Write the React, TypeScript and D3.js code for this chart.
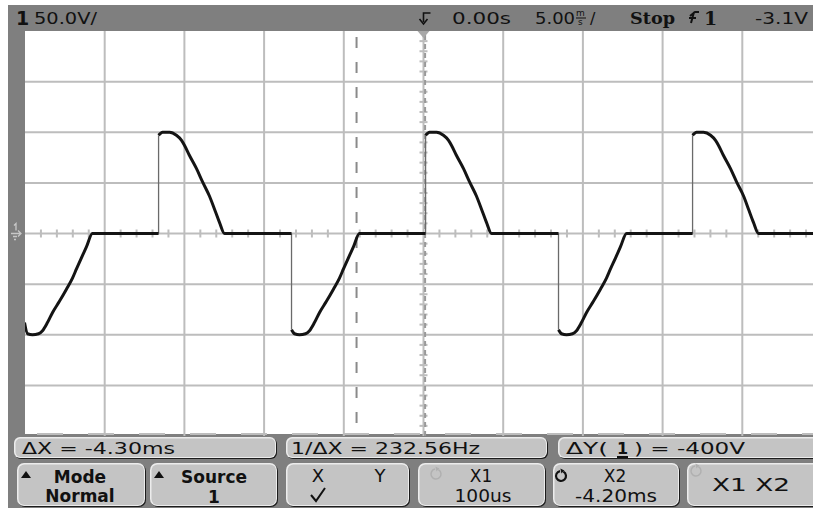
import React from "react";
import * as d3 from "d3";

// ---- data (time in ms, voltage in V) ----
const traceTime = [
  -25.03, -24.84, -24.53, -24.15, -23.9, -23.59, -23.27, -22.84, -22.4, -22.02, -21.77, -21.46, -21.14, -20.77,
  -16.62, -16.62,
  -16.37, -15.93, -15.5, -15.18, -14.99, -14.68, -14.24, -13.86, -13.43, -13.11, -12.8, -12.48,
  -8.28, -8.28,
  -8.09, -7.78, -7.4, -7.15, -6.84, -6.52, -6.09, -5.65, -5.27, -5.02, -4.71, -4.39, -4.02,
  0.13, 0.13,
  0.38, 0.82, 1.25, 1.57, 1.76, 2.07, 2.51, 2.89, 3.32, 3.64, 3.95, 4.27,
  8.47, 8.47,
  8.66, 8.97, 9.35, 9.6, 9.91, 10.23, 10.66, 11.1, 11.48, 11.73, 12.05, 12.36, 12.74,
  16.88, 16.88,
  17.13, 17.57, 18.01, 18.32, 18.51, 18.82, 19.26, 19.64, 20.08, 20.39, 20.7, 21.02,
  25.0,
];
const traceVolts = [
  -88, -99, -100, -99, -96, -88, -78, -67, -55, -44, -35, -24, -13, 0,
  0, 97,
  100, 100, 97, 92, 87, 77, 64, 51, 37, 24, 11, 0,
  0, -95,
  -99, -100, -99, -96, -88, -78, -67, -55, -44, -35, -24, -13, 0,
  0, 97,
  100, 100, 97, 92, 87, 77, 64, 51, 37, 24, 11, 0,
  0, -95,
  -99, -100, -99, -96, -88, -78, -67, -55, -44, -35, -24, -13, 0,
  0, 97,
  100, 100, 97, 92, 87, 77, 64, 51, 37, 24, 11, 0,
  0,
];
const timeGrid = [-20, -15, -10, -5, 0, 5, 10, 15, 20];
const voltGrid = [150, 100, 50, 0, -50, -100, -150];
const cursorX1 = 0.1; // ms
const cursorX2 = -4.2; // ms

const W = 813;
const H = 508;

const x = d3.scaleLinear().domain([-25, 25]).range([25, 822]);
const y = d3.scaleLinear().domain([-200, 200]).range([436, 31]);

function Box({ bx, by, bw, bh, r = 7 }: { bx: number; by: number; bw: number; bh: number; r?: number }) {
  return (
    <g>
      <rect x={bx + 1} y={by + 1} width={bw} height={bh} rx={r} fill="#1c1c1c" />
      <rect x={bx} y={by} width={bw} height={bh} rx={r} fill="#ececec" />
      <rect x={bx + 1.5} y={by + 1.5} width={bw - 2.5} height={bh - 2.5} rx={r - 1} fill="#c4c4c4" />
    </g>
  );
}

function CircArrow({ cx, cy, color, w = 2 }: { cx: number; cy: number; color: string; w?: number }) {
  const r = 5;
  const arc = d3.arc()({ innerRadius: r, outerRadius: r, startAngle: 0.5, endAngle: 2 * Math.PI - 0.2 }) as string;
  return (
    <g transform={`translate(${cx},${cy})`}>
      <path d={arc} fill="none" stroke={color} strokeWidth={w} />
      <path d={`M${r * Math.sin(0.5) - 3},${-r * Math.cos(0.5) - 3} l4,2 l-3,3 z`} fill={color} />
    </g>
  );
}

export default function App() {
  const thickRuns: [number, number][][] = [];
  const thinSegs: [number, number, number][] = [];
  let run: [number, number][] = [[x(traceTime[0]), y(traceVolts[0])]];
  for (let i = 1; i < traceTime.length; i++) {
    if (traceTime[i] === traceTime[i - 1]) {
      thickRuns.push(run);
      thinSegs.push([x(traceTime[i]), y(traceVolts[i - 1]), y(traceVolts[i])]);
      run = [[x(traceTime[i]), y(traceVolts[i])]];
    } else {
      run.push([x(traceTime[i]), y(traceVolts[i])]);
    }
  }
  thickRuns.push(run);
  const line = d3.line().curve(d3.curveMonotoneX);

  const minorT = d3.range(-24, 25).filter((t) => t % 5 !== 0);
  const minorV = d3.range(-190, 200, 10).filter((v) => v % 50 !== 0);

  const font = "'DejaVu Sans', sans-serif";
  const x0 = x(0);
  const y0 = y(0);

  return (
    <svg width={W} height={H} style={{ position: "absolute", left: 0, top: 0 }} fontFamily={font}>
      <rect x={0} y={0} width={W} height={H} fill="#ffffff" />
      <rect x={8} y={5} width={W - 8} height={H - 5} fill="#7f7f7f" />
      <rect x={x(-25)} y={y(200)} width={W - x(-25)} height={y(-200) - y(200) - 2} fill="#ffffff" />
      <g clipPath="url(#plotclip)">
        <defs>
          <clipPath id="plotclip">
            <rect x={x(-25)} y={y(200)} width={W - x(-25)} height={y(-200) - y(200)} />
          </clipPath>
        </defs>
        {timeGrid.map((t) => (
          <line key={"vg" + t} x1={x(t)} x2={x(t)} y1={y(200)} y2={y(-200)} stroke="#bdbdbd" strokeWidth={2} />
        ))}
        {voltGrid.map((v) => (
          <line key={"hg" + v} x1={x(-25)} x2={W} y1={y(v)} y2={y(v)} stroke="#bdbdbd" strokeWidth={2} />
        ))}
        <line x1={37} x2={W} y1={434} y2={434} stroke="#bdbdbd" strokeWidth={2} strokeDasharray="26 25" />
        {minorT.map((t) => (
          <line key={"mt" + t} x1={x(t)} x2={x(t)} y1={y0 - 4} y2={y0 + 4} stroke="#bdbdbd" strokeWidth={2} />
        ))}
        {minorV.map((v) => (
          <line key={"mv" + v} x1={x0 - 4} x2={x0 + 4} y1={y(v)} y2={y(v)} stroke="#bdbdbd" strokeWidth={2} />
        ))}
        <line x1={x(cursorX2)} x2={x(cursorX2)} y1={y(200) + 6} y2={y(-200)} stroke="#8a8a8a" strokeWidth={2} strokeDasharray="11 14" />
        <line x1={x(cursorX1)} x2={x(cursorX1)} y1={y(200) + 4} y2={y(-200)} stroke="#999999" strokeWidth={2} strokeDasharray="5 4" />
        {thinSegs.map(([sx, ya, yb], i) => (
          <line key={"ts" + i} x1={sx} x2={sx} y1={ya} y2={yb} stroke="#6a6a6a" strokeWidth={1.3} />
        ))}
        {thickRuns.map((r, i) => (
          <path key={"tr" + i} d={line(r) as string} fill="none" stroke="#141414" strokeWidth={3} strokeLinejoin="round" />
        ))}
      </g>
      <path d={`M${x0 - 6},${y(200)} L${x0 + 6},${y(200)} L${x0},${y(200) + 7} Z`} fill="#a8a8a8" />
      <path d={`M${x0 + 7},${13} L${x0},${13} L${x0},${22}`} fill="none" stroke="#111" strokeWidth={1.6} />
      <path d={`M${x0 - 4},${19} L${x0},${24} L${x0 + 4},${19}`} fill="none" stroke="#111" strokeWidth={1.6} />
      <g fill="none" stroke="#c8c8c8" strokeWidth={1.3}>
        <path d={`M14,${y0 - 8} L16,${y0 - 10} L16,${y0 - 3}`} />
        <path d={`M11,${y0} L21,${y0} M18,${y0 - 3} L21,${y0} L18,${y0 + 3}`} />
        <path d={`M13,${y0 + 3} L17,${y0 + 3} M14,${y0 + 6} L16,${y0 + 6}`} />
      </g>

      <g fill="#111" fontSize={16}>
        <text x={16} y={25} fontWeight="bold" fontSize={19}>1</text>
        <text x={34} y={24} textLength={63} lengthAdjust="spacingAndGlyphs">50.0V/</text>
        <text x={452} y={24} textLength={59} lengthAdjust="spacingAndGlyphs">0.00s</text>
        <text x={535} y={24} textLength={40} lengthAdjust="spacingAndGlyphs">5.00</text>
        <text x={576} y={16} fontSize={9}>m</text>
        <text x={578} y={25} fontSize={9}>s</text>
        <line x1={576} x2={586} y1={18} y2={18} stroke="#111" strokeWidth={1} />
        <text x={590} y={24}>/</text>
        <text x={630} y={24} fontWeight="bold" fontFamily="'DejaVu Serif', serif" textLength={45} lengthAdjust="spacingAndGlyphs">Stop</text>
        <path d="M690,16 L695,12 L699,12 M694,12 L691,23 M689,18 L696,18" fill="none" stroke="#111" strokeWidth={2} />
        <text x={704} y={25} fontWeight="bold" fontSize={19} fontFamily="'DejaVu Serif', serif">1</text>
        <text x={755} y={24} textLength={53} lengthAdjust="spacingAndGlyphs">-3.1V</text>
      </g>

      <Box bx={14} by={437} bw={262} bh={21} r={6} />
      <Box bx={286} by={437} bw={261} bh={21} r={6} />
      <Box bx={558} by={437} bw={270} bh={21} r={6} />
      <g fill="#111" fontSize={16}>
        <text x={22} y={454} textLength={153} lengthAdjust="spacingAndGlyphs">ΔX = -4.30ms</text>
        <text x={291} y={454} textLength={189} lengthAdjust="spacingAndGlyphs">1/ΔX = 232.56Hz</text>
        <text x={566} y={454} textLength={42} lengthAdjust="spacingAndGlyphs">ΔY(</text>
        <text x={617} y={454} fontWeight="bold">1</text>
        <text x={634} y={454} textLength={111} lengthAdjust="spacingAndGlyphs">) = -400V</text>
        <line x1={617} x2={628} y1={457} y2={457} stroke="#111" strokeWidth={2} />
      </g>

      <Box bx={17} by={463} bw={128} bh={43} />
      <Box bx={150} by={463} bw={127} bh={43} />
      <Box bx={286} by={463} bw={123} bh={43} />
      <Box bx={418} by={463} bw={127} bh={43} />
      <Box bx={553} by={463} bw={126} bh={43} />
      <Box bx={687} by={463} bw={140} bh={43} />
      <g fill="#111" fontSize={17}>
        <path d="M21,478 L26,471 L31,478 Z" />
        <text x={80} y={483} fontWeight="bold" textAnchor="middle">Mode</text>
        <text x={80} y={502} fontWeight="bold" textAnchor="middle">Normal</text>
        <path d="M154,478 L159,471 L164,478 Z" />
        <text x={214} y={483} fontWeight="bold" textAnchor="middle">Source</text>
        <text x={214} y={503} fontWeight="bold" textAnchor="middle">1</text>
        <text x={318} y={482} textAnchor="middle" fontSize={18}>X</text>
        <text x={380} y={482} textAnchor="middle" fontSize={18}>Y</text>
        <path d="M311,495 L316,501 L325,488" fill="none" stroke="#111" strokeWidth={2} />
        <text x={481} y={482} textAnchor="middle">X1</text>
        <text x={483} y={502} textAnchor="middle" textLength={57} lengthAdjust="spacingAndGlyphs">100us</text>
        <text x={615} y={482} textAnchor="middle">X2</text>
        <text x={616} y={502} textAnchor="middle" textLength={82} lengthAdjust="spacingAndGlyphs">-4.20ms</text>
        <text x={751} y={491} textAnchor="middle" textLength={78} lengthAdjust="spacingAndGlyphs">X1 X2</text>
      </g>
      <CircArrow cx={436} cy={474} color="#b0b0b0" w={1.5} />
      <CircArrow cx={561} cy={476} color="#111" w={2.2} />
      <CircArrow cx={696} cy={471} color="#b0b0b0" w={1.5} />
    </svg>
  );
}
